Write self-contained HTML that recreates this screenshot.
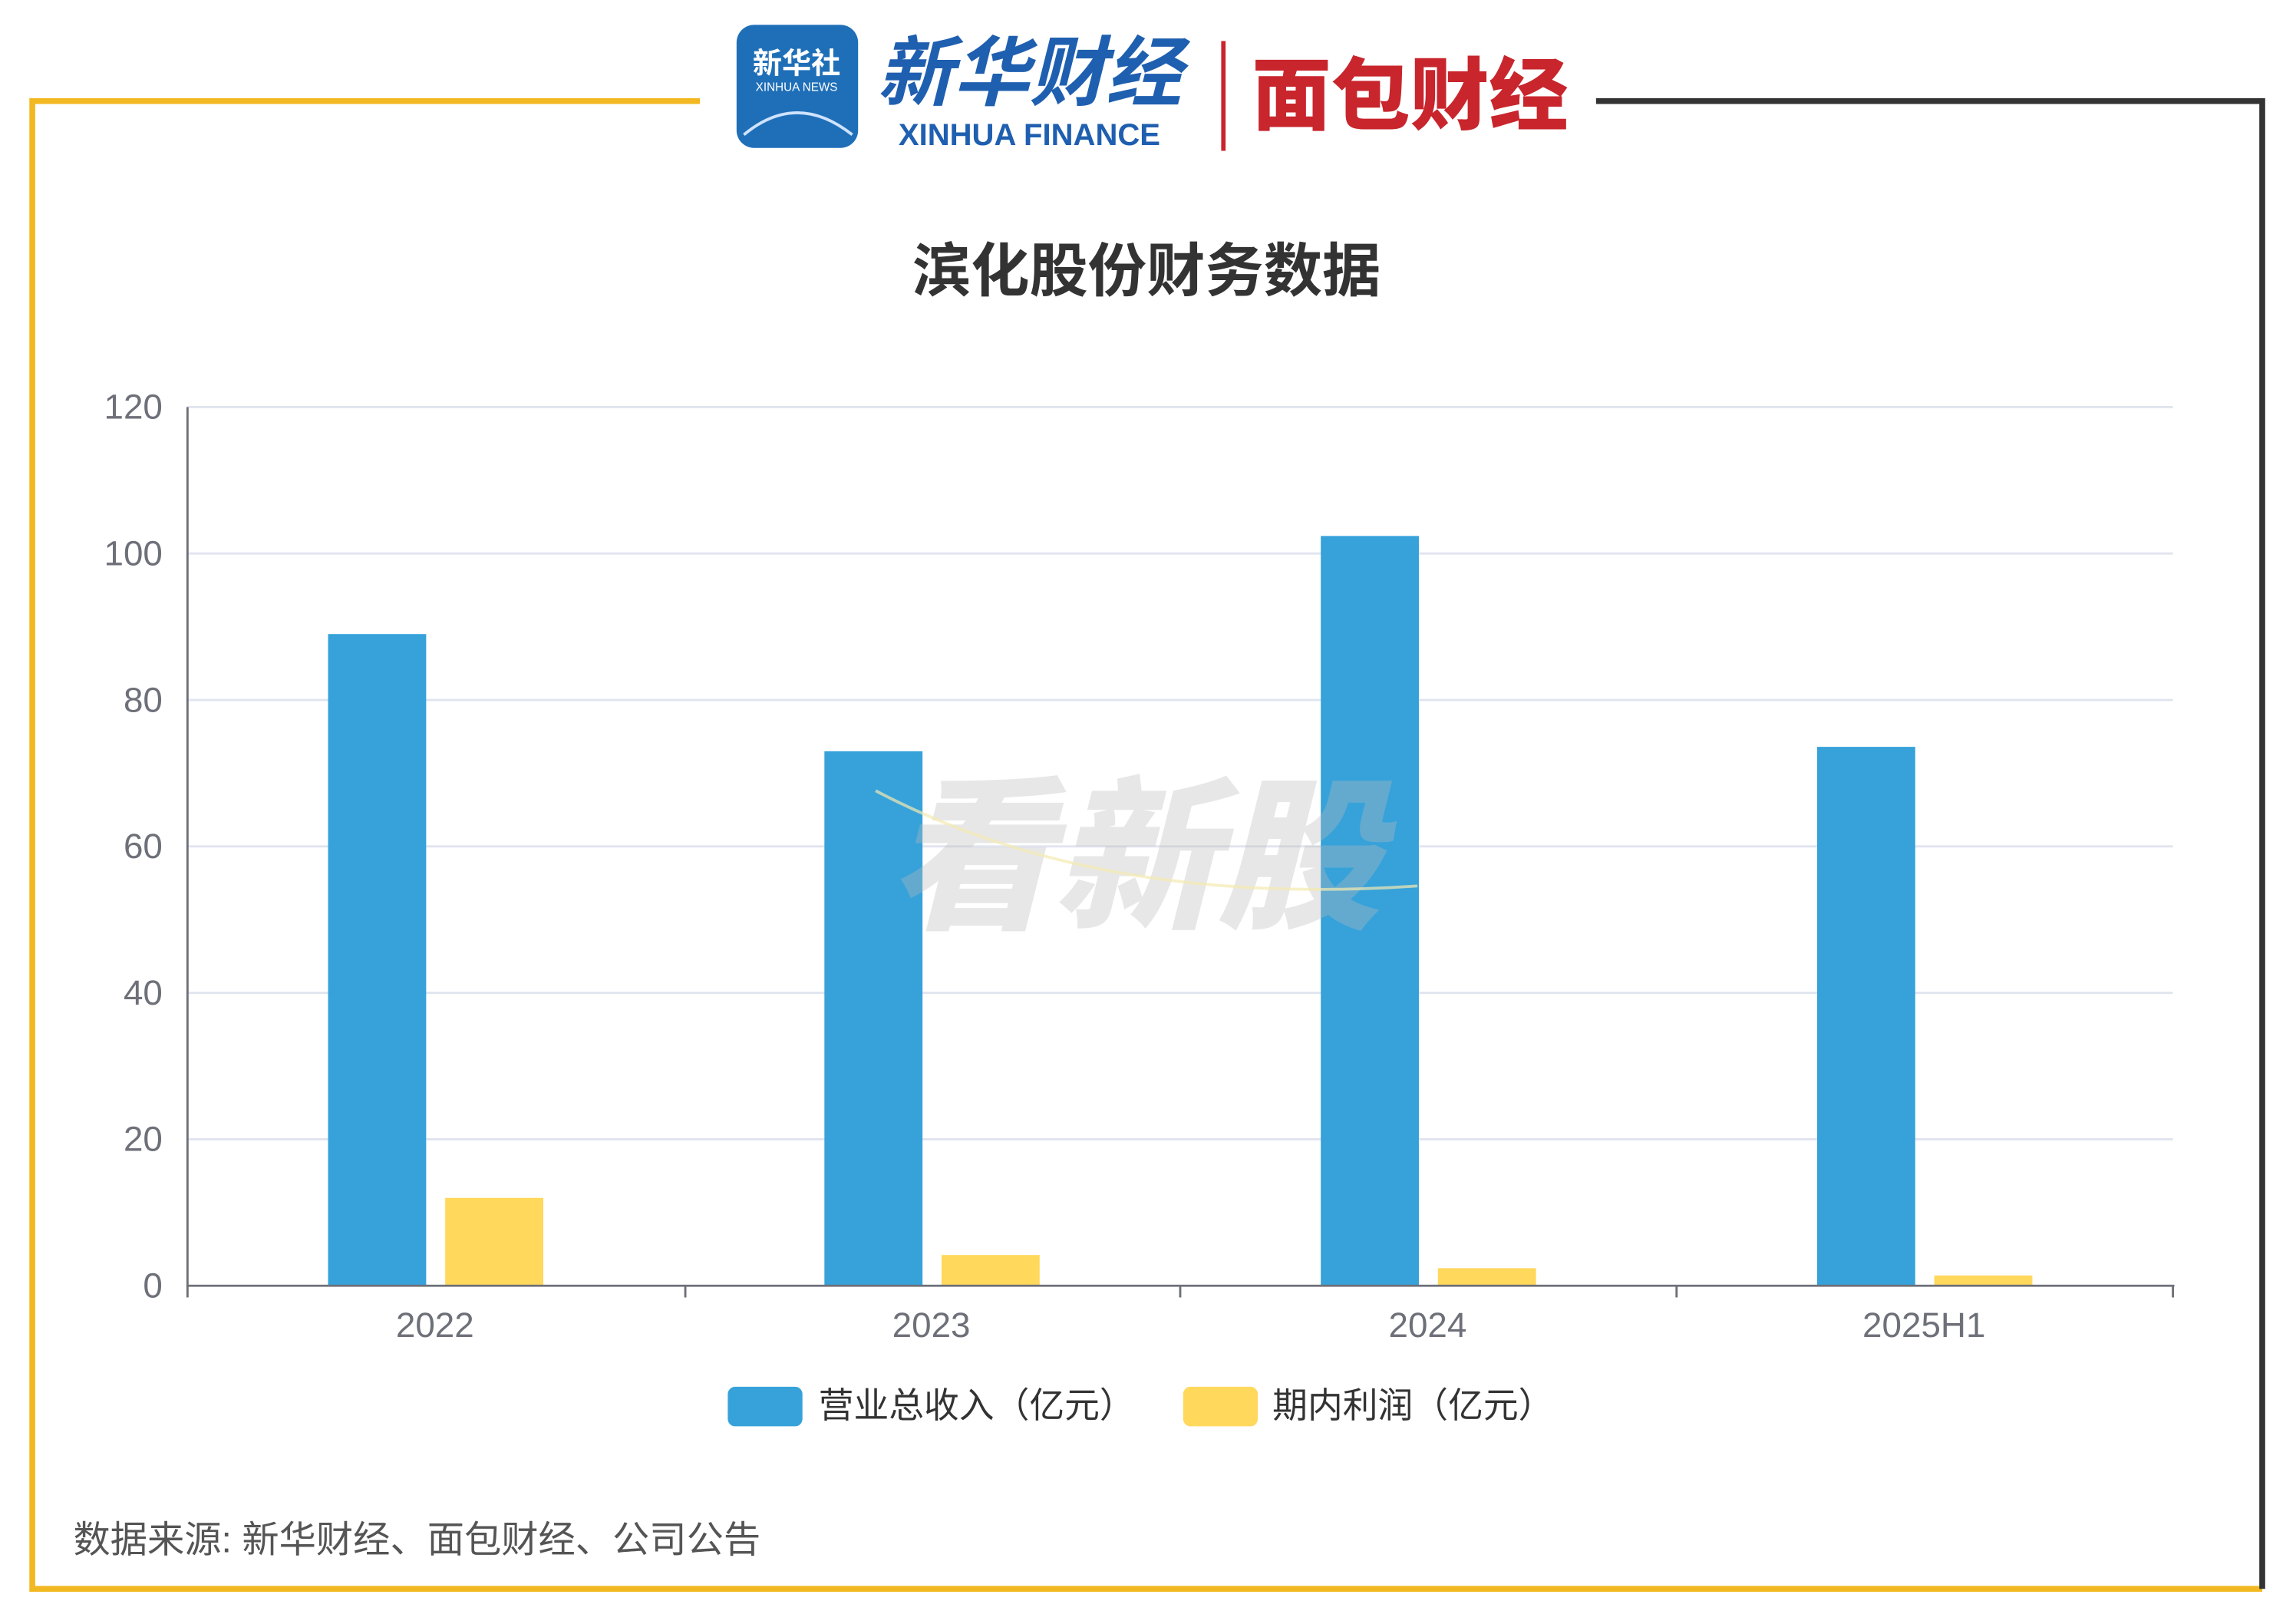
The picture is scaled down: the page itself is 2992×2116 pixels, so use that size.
<!DOCTYPE html>
<html><head><meta charset="utf-8"><style>
html,body{margin:0;padding:0;background:#fff;}
svg{display:block;}
text{font-family:"Liberation Sans","Noto Sans CJK SC",sans-serif;}
</style></head><body>
<svg width="2992" height="2116" viewBox="0 0 1568 1109" xmlns="http://www.w3.org/2000/svg">
<rect width="1568" height="1109" fill="#fff"/>
<polyline points="478,69 22,69 22,1085 1545,1085" fill="none" stroke="#f2b821" stroke-width="4"/>
<polyline points="1090,69 1545,69 1545,1085" fill="none" stroke="#333" stroke-width="4"/>
<rect x="503" y="17" width="83" height="84" rx="12" fill="#1f6fb8"/>
<text x="544" y="50" font-size="20" fill="#fff" text-anchor="middle" font-weight="bold">新华社</text>
<text x="544" y="62" font-size="8" fill="#fff" text-anchor="middle">XINHUA NEWS</text>
<path d="M508 92 Q544 62 582 92" stroke="#cfe3ff" stroke-width="2" fill="none"/>
<text x="703" y="68" font-size="52" fill="#1f5fb0" text-anchor="middle" font-style="italic" font-weight="bold" font-family="'Noto Serif CJK SC',serif">新华财经</text>
<text x="703" y="99" font-size="21" fill="#1f5fb0" text-anchor="middle" font-weight="bold" font-family="'Liberation Serif',serif">XINHUA FINANCE</text>
<rect x="834" y="28" width="3" height="75" fill="#c8252c"/>
<text x="963" y="84" font-size="54" fill="#c8252c" text-anchor="middle" font-weight="900">面包财经</text>
<text x="783" y="199" font-size="40" fill="#333" text-anchor="middle" font-weight="bold">滨化股份财务数据</text>
<g stroke="#e0e4ef" stroke-width="1.5">
<line x1="128" y1="278" x2="1484" y2="278"/><line x1="128" y1="378" x2="1484" y2="378"/>
<line x1="128" y1="478" x2="1484" y2="478"/><line x1="128" y1="578" x2="1484" y2="578"/>
<line x1="128" y1="678" x2="1484" y2="678"/><line x1="128" y1="778" x2="1484" y2="778"/>
</g>
<g font-size="24" fill="#6e7079" text-anchor="end">
<text x="111" y="286">120</text><text x="111" y="386">100</text><text x="111" y="486">80</text>
<text x="111" y="586">60</text><text x="111" y="686">40</text><text x="111" y="786">20</text><text x="111" y="886">0</text>
</g>
<g fill="#37a2da">
<rect x="224" y="433" width="67" height="445"/>
<rect x="563" y="513" width="67" height="365"/>
<rect x="902" y="366" width="67" height="512"/>
<rect x="1241" y="510" width="67" height="368"/>
</g>
<g fill="#ffd85c">
<rect x="304" y="818" width="67" height="60"/>
<rect x="643" y="857" width="67" height="21"/>
<rect x="982" y="866" width="67" height="12"/>
<rect x="1321" y="871" width="67" height="7"/>
</g>
<text x="775" y="625" font-size="112" fill="#bbbbbb" fill-opacity="0.35" text-anchor="middle" font-weight="900" font-style="italic">看新股</text>
<path d="M598 540 Q750 620 968 605" stroke="#f3e9b0" stroke-width="2" fill="none" opacity="0.7"/>
<line x1="128" y1="278" x2="128" y2="879" stroke="#6e7079" stroke-width="1.5"/>
<g stroke="#6e7079" stroke-width="1.5">
<line x1="128" y1="878" x2="1485" y2="878"/>
<line x1="128" y1="878" x2="128" y2="886"/><line x1="468" y1="878" x2="468" y2="886"/>
<line x1="806" y1="878" x2="806" y2="886"/><line x1="1145" y1="878" x2="1145" y2="886"/>
<line x1="1484" y1="878" x2="1484" y2="886"/>
</g>
<g font-size="24" fill="#6e7079" text-anchor="middle">
<text x="297" y="913">2022</text><text x="636" y="913">2023</text>
<text x="975" y="913">2024</text><text x="1314" y="913">2025H1</text>
</g>
<rect x="497" y="947" width="51" height="27" rx="5" fill="#37a2da"/>
<text x="559" y="968" font-size="24" fill="#333">营业总收入（亿元）</text>
<rect x="808" y="947" width="51" height="27" rx="5" fill="#ffd85c"/>
<text x="869" y="968" font-size="24" fill="#333">期内利润（亿元）</text>
<text x="50" y="1060" font-size="25.3" fill="#555">数据来源: 新华财经、面包财经、公司公告</text>
</svg>
</body></html>
